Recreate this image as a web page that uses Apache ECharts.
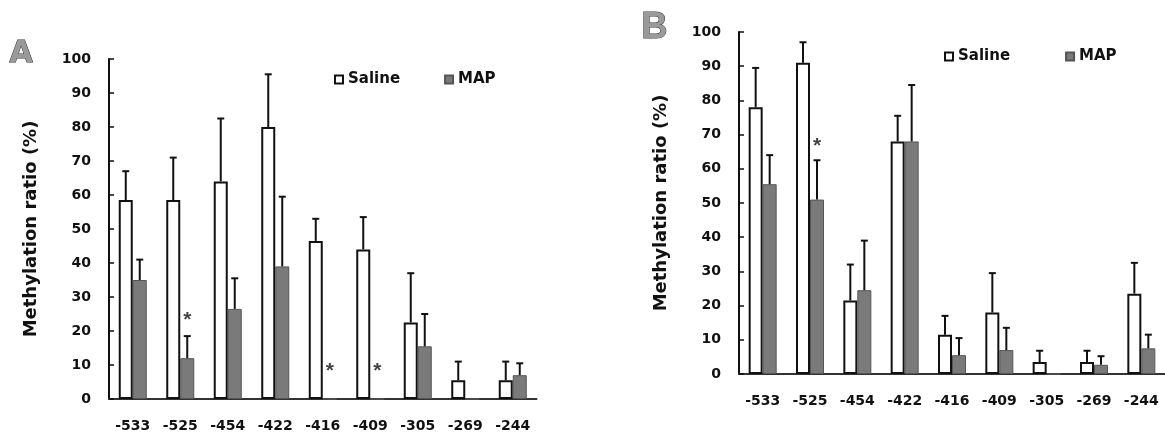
<!DOCTYPE html>
<html>
<head>
<meta charset="utf-8">
<script src="https://cdn.jsdelivr.net/npm/echarts@6/dist/echarts.min.js"></script>
<style>
  html, body { margin: 0; padding: 0; background: #fff; }
  #chart { width: 1165px; height: 436px; }
</style>
</head>
<body>
<div id="chart"></div>
<script>
// CpG positions
const categories = ['-533', '-525', '-454', '-422', '-416', '-409', '-305', '-269', '-244']
const yTicks = [0, 10, 20, 30, 40, 50, 60, 70, 80, 90, 100]

// panel A, mean and SD (%)
const salineA = [58.5, 58.5, 64, 80, 46.5, 44, 22.5, 5.5, 5.5]
const salineASd = [8.5, 12.5, 18.5, 15.5, 6.5, 9.5, 14.5, 5.5, 5.5]
const mapA = [35, 12, 26.5, 39, 0, 0, 15.5, 0, 7]
const mapASd = [6, 6.5, 9, 20.5, 0, 0, 9.5, 0, 3.5]
const starsA = [[1, 24.7], [4, 9.5], [5, 9.5]]

// panel B
const salineB = [78, 91, 21.5, 68, 11.5, 18, 3.5, 3.5, 23.5]
const salineBSd = [11.5, 6, 10.5, 7.5, 5.5, 11.5, 3.3, 3.3, 9]
const mapB = [55.5, 51, 24.5, 68, 5.5, 7, 0, 2.7, 7.5]
const mapBSd = [8.5, 11.5, 14.5, 16.5, 5, 6.5, 0, 2.5, 4]
const starsB = [[1, 68]]

const FONT = 'DejaVu Sans'
const INK = '#111'

const chart = echarts.init(document.getElementById('chart'))

function errRows(mean, sd) {
  return categories.map((c, i) => [i, mean[i], sd[i]])
}

// upward-only error bar, shifted onto the bar (half a bar width)
function errorBar(shift) {
  return function (params, api) {
    const sd = api.value(2)
    if (!sd) return null
    const base = api.coord([api.value(0), api.value(1)])
    const top = api.coord([api.value(0), api.value(1) + sd])
    const x = base[0] + shift
    const st = { stroke: INK, lineWidth: 2 }
    return {
      type: 'group',
      children: [
        { type: 'line', shape: { x1: x, y1: base[1], x2: x, y2: top[1] }, style: st },
        { type: 'line', shape: { x1: x - 3.5, y1: top[1], x2: x + 3.5, y2: top[1] }, style: st }
      ]
    }
  }
}

function xAxis(gi) {
  return {
    type: 'category',
    gridIndex: gi,
    data: categories,
    axisLine: { lineStyle: { color: '#333', width: 2 } },
    axisTick: { show: false },
    axisLabel: { color: INK, fontFamily: FONT, fontWeight: 'bold', fontSize: 14, margin: 20 }
  }
}

function yAxis(gi) {
  return {
    type: 'value',
    gridIndex: gi,
    min: yTicks[0],
    max: yTicks[yTicks.length - 1],
    interval: 10,
    name: 'Methylation ratio (%)',
    nameLocation: 'middle',
    nameGap: 69,
    nameTextStyle: { color: INK, fontFamily: FONT, fontWeight: 'bold', fontSize: 18 },
    axisLine: { show: true, lineStyle: { color: INK, width: 2 } },
    axisTick: { show: true, inside: true, length: 5, lineStyle: { color: INK, width: 1.5 } },
    splitLine: { show: false },
    axisLabel: { color: INK, fontFamily: FONT, fontWeight: 'bold', fontSize: 14, margin: 18 }
  }
}

function panelSeries(idx, saline, salineSd, map, mapSd, stars) {
  return [
    {
      name: 'Saline', type: 'bar', xAxisIndex: idx, yAxisIndex: idx,
      data: saline, barWidth: 14, barGap: '0%',
      itemStyle: { color: '#fff', borderColor: INK, borderWidth: 2 }
    },
    {
      name: 'MAP', type: 'bar', xAxisIndex: idx, yAxisIndex: idx,
      data: map, barWidth: 14, barGap: '0%',
      itemStyle: { color: '#7a7a7a', borderColor: '#555', borderWidth: 1 }
    },
    {
      type: 'custom', xAxisIndex: idx, yAxisIndex: idx, silent: true,
      renderItem: errorBar(-7), encode: { x: 0, y: [1, 2] },
      data: errRows(saline, salineSd), z: 3
    },
    {
      type: 'custom', xAxisIndex: idx, yAxisIndex: idx, silent: true,
      renderItem: errorBar(7), encode: { x: 0, y: [1, 2] },
      data: errRows(map, mapSd), z: 3
    },
    {
      type: 'scatter', xAxisIndex: idx, yAxisIndex: idx, silent: true,
      data: stars, symbolSize: 1, itemStyle: { color: 'rgba(0,0,0,0)' },
      label: {
        show: true, position: 'inside', formatter: '*', offset: [7, 5],
        color: INK, fontFamily: 'Liberation Sans', fontWeight: 'bold', fontSize: 21
      },
      z: 4
    }
  ]
}

const legendBase = {
  data: ['Saline', 'MAP'],
  itemWidth: 8,
  itemHeight: 8,
  itemTextGap: 6,
  icon: 'rect',
  selectedMode: false,
  textStyle: { color: INK, fontFamily: FONT, fontWeight: 'bold', fontSize: 15 }
}

const option = {
  animation: false,
  backgroundColor: '#fff',
  grid: [
    { left: 109, top: 59, width: 427.5, height: 340 },
    { left: 739, top: 32, width: 426, height: 342 }
  ],
  xAxis: [xAxis(0), xAxis(1)],
  yAxis: [yAxis(0), yAxis(1)],
  legend: [
    Object.assign({}, legendBase, { left: 329, top: 67, itemGap: 44 }),
    Object.assign({}, legendBase, { left: 939, top: 44, itemGap: 55 })
  ],
  graphic: [
    {
      type: 'text', left: 9, top: 39,
      style: { text: 'A', fontFamily: FONT, fontWeight: 'bold', fontSize: 30, fill: '#9a9a9a', stroke: '#333', lineWidth: 1 }
    },
    {
      type: 'text', left: 641, top: 10,
      style: { text: 'B', fontFamily: 'Liberation Sans', fontWeight: 'bold', fontSize: 36, fill: '#9a9a9a', stroke: '#333', lineWidth: 1 }
    }
  ],
  series: [
    ...panelSeries(0, salineA, salineASd, mapA, mapASd, starsA),
    ...panelSeries(1, salineB, salineBSd, mapB, mapBSd, starsB)
  ]
}

chart.setOption(option)
</script>
</body>
</html>
